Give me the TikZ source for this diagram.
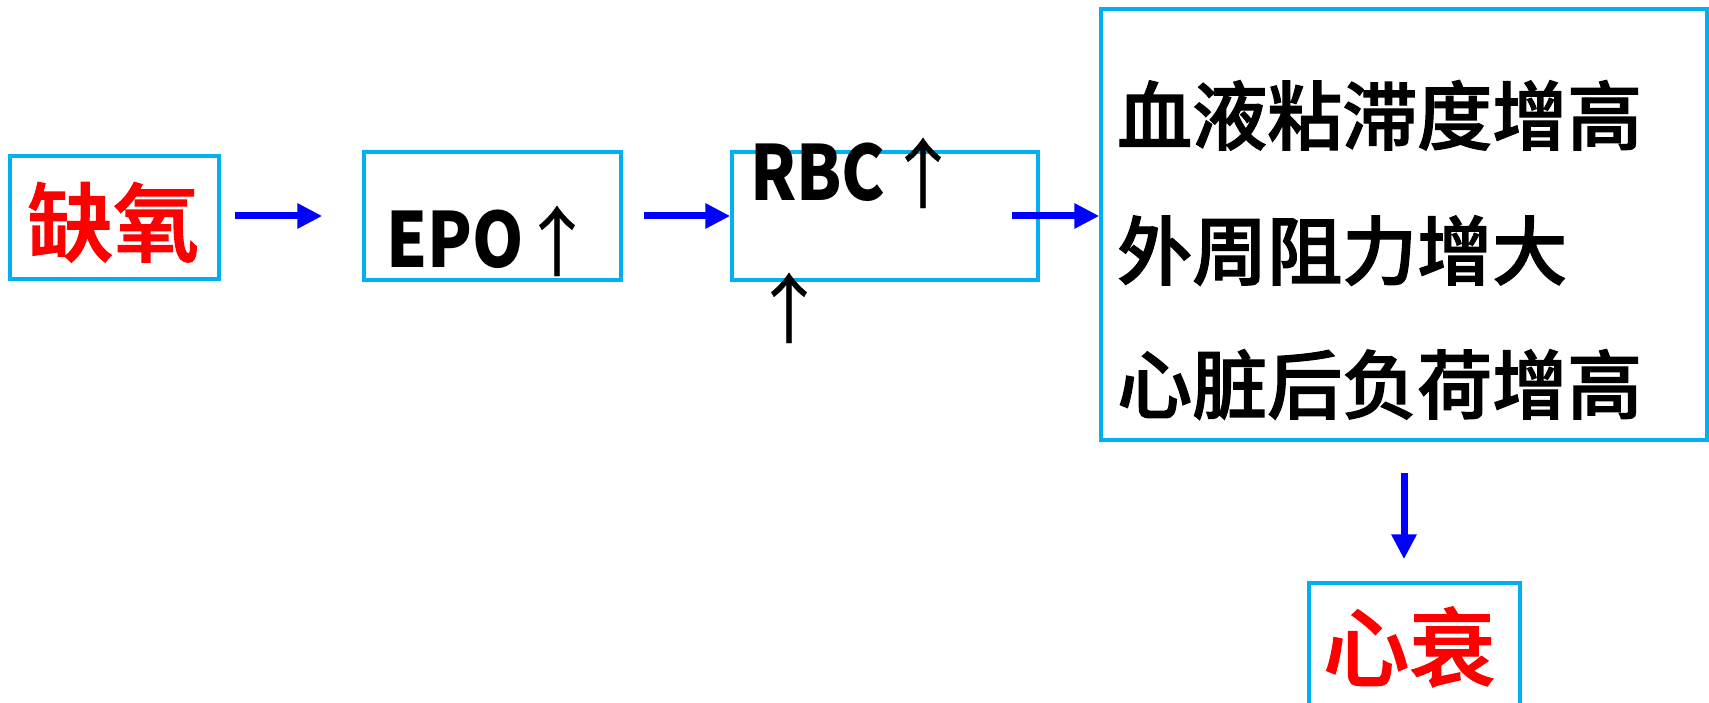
\documentclass[tikz,border=0pt]{standalone}
\usepackage{fontspec}
\newfontfamily\cjk{Noto Sans CJK SC Medium}[FakeBold=1.6]
\newfontfamily\narrowlat{Noto Sans CJK SC}[FakeStretch=0.86]
\newfontfamily\arrowfont{Noto Sans CJK SC}[FakeBold=0.4]
\usetikzlibrary{arrows.meta}
\definecolor{boxblue}{HTML}{00B0F0}
\definecolor{flowblue}{HTML}{0000FF}
\definecolor{alertred}{HTML}{FF0000}
\tikzset{
  frame/.style={draw=boxblue, line width=3.5pt, rectangle, inner sep=0pt},
  flow/.style={draw=flowblue, line width=7pt, -{Triangle[length=25pt,width=24pt]}},
  txt/.style={inner sep=0pt, anchor=base west},
  big/.style={txt, text=alertred, font=\cjk\fontsize{86pt}{90pt}\selectfont},
  mid/.style={txt, font=\cjk\fontsize{75pt}{80pt}\selectfont},
  lat/.style={txt, font=\narrowlat\bfseries\fontsize{76pt}{80pt}\selectfont},
  up/.style={inner sep=0pt, anchor=base, font=\arrowfont\fontsize{76pt}{80pt}\selectfont},
}
\begin{document}
\begin{tikzpicture}[x=1pt, y=-1pt]
  \useasboundingbox (0,0) rectangle (1709,703);
  \clip (0,0) rectangle (1709,703);

  % boxes
  \node[frame, minimum width=209pt, minimum height=123pt] (oxy) at (114.5,217.5) {};
  \node[frame, minimum width=257pt, minimum height=128pt] (epo) at (492.5,216) {};
  \node[frame, minimum width=306pt, minimum height=128pt] (rbc) at (885,216) {};
  \node[frame, minimum width=606pt, minimum height=431pt] (effects) at (1404,224.5) {};
  \node[frame, minimum width=211pt, minimum height=160pt] (failure) at (1414.5,663) {};

  % texts
  \node[big] (toxy) at (27,255) {缺氧};
  \node[lat] (tepo) at (386,268) {EPO};
  \node[up]  (aepo) at (557,270) {↑};
  \node[lat] (trbc) at (750,201) {RBC};
  \node[up]  (arbc) at (923,202) {↑};
  \node[up]  (alow) at (789,337) {↑};
  \node[mid] (l1) at (1117,144) {血液粘滞度增高};
  \node[mid] (l2) at (1117,279) {外周阻力增大};
  \node[mid] (l3) at (1117,413) {心脏后负荷增高};
  \node[big] (tfail) at (1323,680) {心衰};

  % flow arrows
  \draw[flow, shorten <=14pt, shorten >=40pt] (oxy.east |- epo.west) -- (epo.west);
  \draw[flow, shorten <=21pt] (epo.east) -- (rbc.west);
  \draw[flow, shorten <=-28pt] (rbc.east) -- (effects.west |- rbc.east);
  \draw[flow, shorten <=31pt, shorten >=22pt] (effects.south) -- (effects.south |- failure.north);
\end{tikzpicture}
\end{document}
